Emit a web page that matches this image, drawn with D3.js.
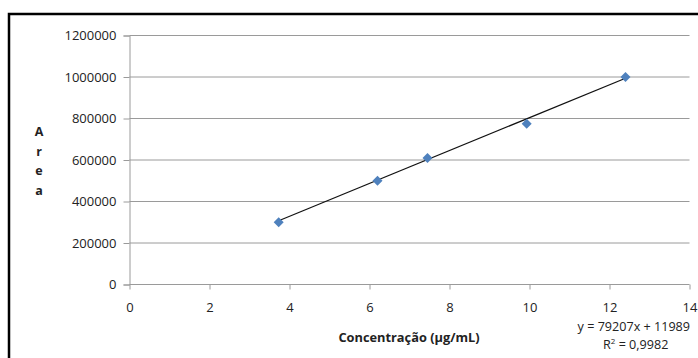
<!DOCTYPE html>
<html>
<head>
<meta charset="utf-8">
<script src="https://cdn.jsdelivr.net/npm/d3@7"></script>
<style>
  body { margin: 0; background: #fff; }
  svg text { font-family: "Open Sans", "DejaVu Sans", sans-serif; fill: #222; }
</style>
</head>
<body>
<svg id="chart" width="698" height="358"></svg>
<script>
// Calibration data
var concentrations = [3.73, 6.2, 7.45, 9.93, 12.4];
var areas = [300000, 500000, 610000, 775000, 1000000];
var xTicks = [0, 2, 4, 6, 8, 10, 12, 14];
var yTicks = [0, 200000, 400000, 600000, 800000, 1000000, 1200000];
var slope = 79207, intercept = 11989;
var eqLabel = 'y = 79207x + 11989';
var r2Label = '0,9982';

var svg = d3.select('#chart');

// outer frame
svg.append('path')
    .attr('d', 'M9,358 V14 H698')
    .attr('fill', 'none').attr('stroke', '#000').attr('stroke-width', 2.5);

var x = d3.scaleLinear().domain([0, 14]).range([129.5, 689.5]);
var y = d3.scaleLinear().domain([0, 1200000]).range([284.5, 35.5]);

// gridlines
svg.append('g').selectAll('line').data(yTicks.slice(1)).enter().append('line')
    .attr('x1', x(0)).attr('x2', x(14))
    .attr('y1', d => y(d)).attr('y2', d => y(d))
    .attr('stroke', '#9a9a9a').attr('stroke-width', 1);

// y axis
var yAxis = svg.append('g').attr('transform', 'translate(' + x(0) + ',0)')
    .call(d3.axisLeft(y).tickValues(yTicks).tickSize(6).tickPadding(7).tickFormat(d3.format('d')));
yAxis.select('.domain').attr('stroke', '#9a9a9a');
yAxis.selectAll('.tick line').attr('stroke', '#9a9a9a');
yAxis.selectAll('text').attr('font-size', 13).attr('fill', '#222');

// x axis
var xAxis = svg.append('g').attr('transform', 'translate(0,' + y(0) + ')')
    .call(d3.axisBottom(x).tickValues(xTicks).tickSize(5).tickPadding(13).tickFormat(d3.format('d')));
xAxis.select('.domain').attr('stroke', '#9a9a9a').attr('d', 'M' + x(0) + ',0H' + x(14));
xAxis.selectAll('.tick line').attr('stroke', '#9a9a9a');
xAxis.selectAll('text').attr('font-size', 13).attr('fill', '#222');

// trendline
var xMin = d3.min(concentrations), xMax = d3.max(concentrations);
svg.append('line')
    .attr('x1', x(xMin)).attr('y1', y(slope * xMin + intercept))
    .attr('x2', x(xMax)).attr('y2', y(slope * xMax + intercept))
    .attr('stroke', '#111').attr('stroke-width', 1.2);

// markers
svg.append('g').selectAll('path').data(concentrations).enter().append('path')
    .attr('transform', (d, i) => 'translate(' + x(d) + ',' + y(areas[i]) + ')')
    .attr('d', 'M0,-5L5,0L0,5L-5,0Z')
    .attr('fill', '#4F81BD');

// axis titles
svg.append('text')
    .attr('x', 409).attr('y', 342).attr('text-anchor', 'middle')
    .attr('font-size', 12.8).attr('font-weight', 'bold')
    .text('Concentração (µg/mL)');

svg.append('g').selectAll('text').data('Area'.split('')).enter().append('text')
    .attr('x', 39).attr('y', (d, i) => 136 + i * 19.5).attr('text-anchor', 'middle')
    .attr('font-size', 12.5).attr('font-weight', 'bold')
    .text(d => d);

// regression label
svg.append('text')
    .attr('x', 690).attr('y', 331).attr('text-anchor', 'end')
    .attr('font-size', 12.6).text(eqLabel);
var r2 = svg.append('text')
    .attr('x', 603).attr('y', 349)
    .attr('font-size', 12.6);
r2.append('tspan').text('R');
r2.append('tspan').attr('font-size', 8).attr('dy', -5).text('2');
r2.append('tspan').attr('dy', 5).text(' = ' + r2Label);
</script>
</body>
</html>
